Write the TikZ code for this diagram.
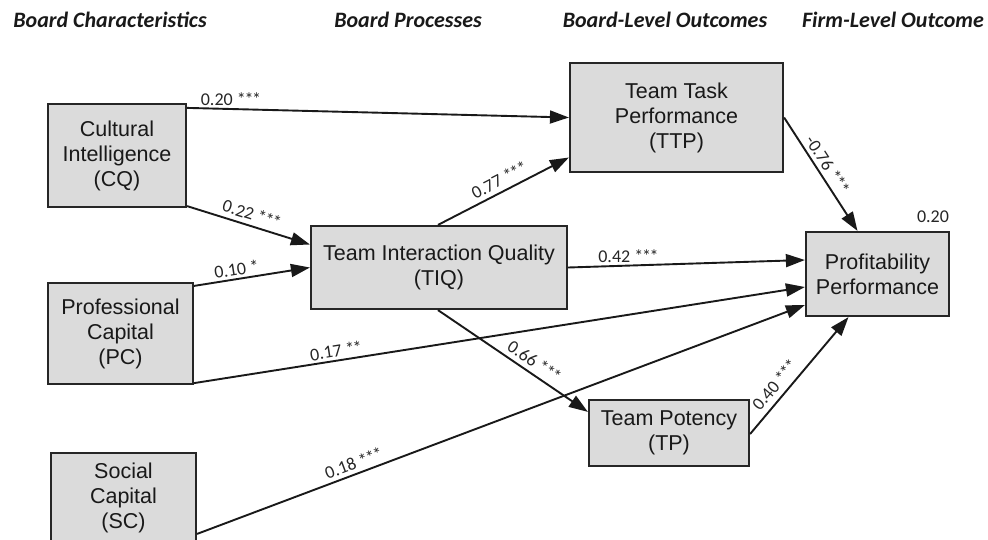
\documentclass[tikz,border=0pt]{standalone}
\usepackage{fontspec}
\setmainfont{Liberation Sans}
\newfontfamily\labelfont{Carlito}
\usetikzlibrary{arrows.meta}

% significance markers with tightened asterisks
\newcommand{\sigthree}{*\kern-1.3pt*\kern-1.3pt*}
\newcommand{\sigtwo}{*\kern-1.3pt*}

\tikzset{
  varbox/.style={draw=black!85, line width=2.2pt, fill=black!14, inner sep=0pt,
    align=center, font=\fontsize{21.5}{25}\selectfont, text=black!90},
  path/.style={line width=1.9pt, draw=black!90, -{Triangle[length=19pt,width=13pt]}},
  coef/.style={font=\labelfont\fontsize{18}{20}\selectfont, text=black!85, inner sep=1.5pt},
  header/.style={font=\labelfont\bfseries\itshape\fontsize{22}{24}\selectfont, text=black!90}
}

\begin{document}
\begin{tikzpicture}[x=1pt,y=-1pt]
\useasboundingbox (0,0) rectangle (988,539);

% column headings
\node[header] (h1) at (110,20) {Board Characteristics};
\node[header] (h2) at (408,20) {Board Processes};
\node[header] (h3) at (665,20) {Board-Level Outcomes};
\node[header] (h4) at (893,20) {Firm-Level Outcome};

% constructs
\node[varbox, minimum width=138pt, minimum height=103pt] (cq) at (117,155.5)
  {Cultural\\Intelligence\\(CQ)};
\node[varbox, minimum width=145pt, minimum height=101pt] (pc) at (120.5,333.5)
  {Professional\\Capital\\(PC)};
\node[varbox, minimum width=145pt, minimum height=90pt] (sc) at (123.5,498)
  {Social\\Capital\\(SC)};
\node[varbox, minimum width=256pt, minimum height=83pt] (tiq) at (439,267.5)
  {Team Interaction Quality\\(TIQ)};
\node[varbox, minimum width=213pt, minimum height=109pt] (ttp) at (676.5,117.5)
  {Team Task\\Performance\\(TTP)};
\node[varbox, minimum width=143pt, minimum height=84pt] (pp) at (877.5,274)
  {Profitability\\Performance};
\node[varbox, minimum width=160pt, minimum height=66pt] (tp) at (669,433)
  {Team Potency\\(TP)};

% explained variance
\node[coef] (r2) at (933,217) {0.20};

% structural paths
\draw[path] ([yshift=-5pt]cq.north east) -- (ttp.west)
  node[coef, pos=0.115, above=1pt] {0.20 \sigthree};
\draw[path] ([yshift=2pt]cq.south east) -- ([yshift=23pt]tiq.west)
  node[coef, pos=0.5, sloped, above=3pt] {0.22 \sigthree};
\draw[path] ([yshift=-4pt]pc.north east) -- (tiq.west)
  node[coef, pos=0.38, sloped, above=1pt] {0.10 *};
\draw[path] ([xshift=-1pt]tiq.north) -- ([yshift=-40pt]ttp.west)
  node[coef, pos=0.51, sloped, above=3pt] {0.77 \sigthree};
\draw[path] (tiq.east) -- ([yshift=14pt]pp.west)
  node[coef, pos=0.255, above=1pt] {0.42 \sigthree};
\draw[path] ([yshift=2pt]pc.south east) -- ([yshift=-13pt]pp.west)
  node[coef, pos=0.235, sloped, above=1pt] {0.17 \sigtwo};
\draw[path] ([yshift=-82pt]sc.north east) -- ([yshift=-31pt]pp.west)
  node[coef, pos=0.264, sloped, above=2pt] {0.18 \sigthree};
\draw[path] ([xshift=-1pt]tiq.south) -- ([yshift=-13pt]tp.north west)
  node[coef, pos=0.6, sloped, above=3pt] {0.66 \sigthree};
\draw[path] ([yshift=-1pt]tp.east) -- ([xshift=-29pt]pp.south)
  node[coef, pos=0.35, sloped, above=4pt] {0.40 \sigthree};
\draw[path] (ttp.east) -- ([xshift=-20pt]pp.north)
  node[coef, pos=0.47, sloped, above=2pt] {-0.76 \sigthree};
\end{tikzpicture}
\end{document}
